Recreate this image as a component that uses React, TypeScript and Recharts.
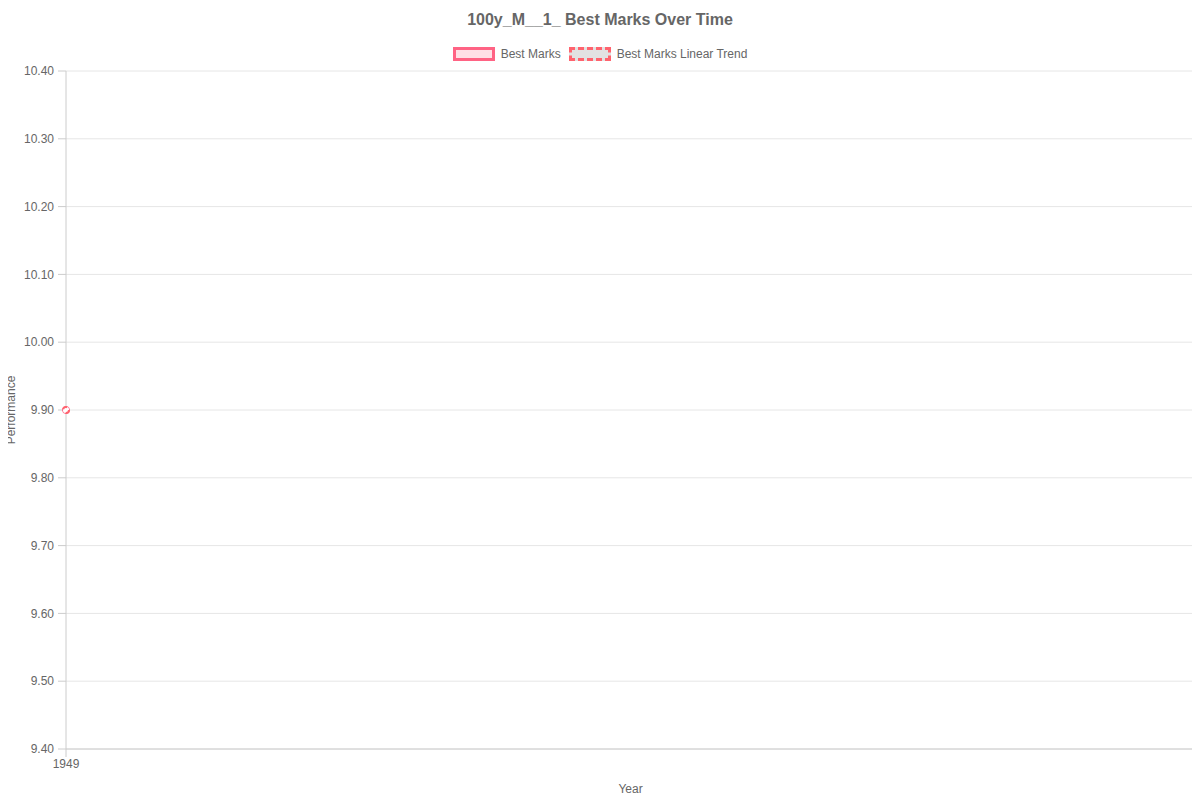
import React from 'react';
import { LineChart, Line, XAxis, YAxis, CartesianGrid } from 'recharts';

const years = [1949];
const bestMarks = [9.9];
const trendMarks = [9.9];
const yTicks = [9.4, 9.5, 9.6, 9.7, 9.8, 9.9, 10.0, 10.1, 10.2, 10.3, 10.4];

const data = years.map((year, i) => ({ year, best: bestMarks[i], trend: trendMarks[i] }));

const FONT = '"Liberation Sans", Arial, Helvetica, sans-serif';
const TEXT = '#666';

const LegendBox = () => (
  <div style={{ position: 'absolute', top: 47, left: 0, width: 1200, display: 'flex', justifyContent: 'center', alignItems: 'center', fontSize: 12, color: TEXT }}>
    <span style={{ display: 'inline-block', width: 36, height: 8, border: '3px solid rgb(255,99,132)', background: 'rgba(255,99,132,0.2)', marginRight: 6 }} />
    <span style={{ marginRight: 8 }}>Best Marks</span>
    <span style={{ display: 'inline-block', width: 36, height: 8, border: '3px dashed rgb(255,99,110)', background: '#e2e2e2', marginRight: 6 }} />
    <span>Best Marks Linear Trend</span>
  </div>
);

const YLabel = (props: any) => {
  const { viewBox } = props;
  const cy = viewBox.y + viewBox.height / 2;
  return (
    <text x={11} y={cy} transform={`rotate(-90, 11, ${cy})`} textAnchor="middle" dominantBaseline="central" fill={TEXT} fontSize={12} fontFamily={FONT}>
      Performance
    </text>
  );
};

const TickText = (props: any) => {
  const { x, y, payload, textAnchor, verticalAnchor, formatter } = props;
  const dy = verticalAnchor === 'start' ? '0.71em' : '0.355em';
  return (
    <text x={x} y={y} dy={dy} textAnchor={textAnchor} fill={TEXT} fontSize={12} fontFamily={FONT}>
      {formatter ? formatter(payload.value) : payload.value}
    </text>
  );
};

const App: React.FC = () => {
  return (
    <div style={{ position: 'relative', width: 1200, height: 800, margin: '-8px 0 0 -8px', fontFamily: FONT }}>
      <div style={{ position: 'absolute', top: 11, left: 0, width: 1200, textAlign: 'center', fontSize: 16, fontWeight: 'bold', color: TEXT }}>
        100y_M__1_ Best Marks Over Time
      </div>
      <LegendBox />
      <LineChart width={1200} height={800} data={data} margin={{ top: 71, right: 5, bottom: 11, left: 16 }}>
        <CartesianGrid vertical={false} stroke="#e6e6e6" />
        <XAxis
          dataKey="year"
          type="number"
          domain={[1949, 1950]}
          ticks={years}
          allowDecimals={false}
          height={40}
          stroke="#ccc"
          tickLine={{ stroke: '#ccc' }}
          tickSize={8}
          tickMargin={2}
          tick={<TickText />}
          label={{ value: 'Year', position: 'insideBottom', offset: -4, fill: TEXT, fontSize: 12, fontFamily: FONT }}
        />
        <YAxis
          type="number"
          domain={[9.4, 10.4]}
          ticks={yTicks}
          width={50}
          stroke="#ccc"
          tickLine={{ stroke: '#ccc' }}
          tickSize={8}
          tickMargin={4}
          tick={<TickText formatter={(v: number) => v.toFixed(2)} />}
          label={<YLabel />}
        />
        <Line
          dataKey="best"
          stroke="rgb(255,99,132)"
          strokeWidth={3}
          dot={{ r: 3.5, stroke: 'rgb(255,99,132)', strokeWidth: 1, fill: 'rgba(255,99,132,0.2)', clipDot: false }}
          isAnimationActive={false}
        />
        <Line
          dataKey="trend"
          stroke="rgb(255,99,110)"
          strokeWidth={2}
          strokeDasharray="5 5"
          dot={false}
          isAnimationActive={false}
        />
      </LineChart>
    </div>
  );
};

export default App;
